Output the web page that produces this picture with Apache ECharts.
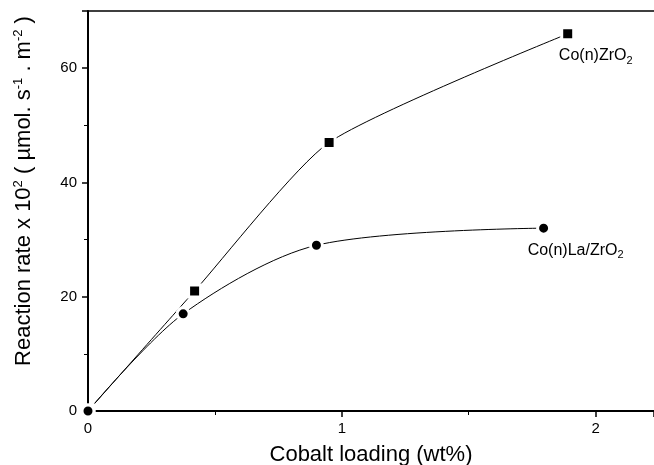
<!DOCTYPE html>
<html>
	<head>
		<meta charset="utf-8">
		<script src="https://cdn.jsdelivr.net/npm/echarts@6/dist/echarts.min.js"></script>
		<title>Reaction rate vs cobalt loading</title>
	</head>
	<body>
		<style>
			html,
			body,
			#main {
				width: 100%;
				height: 100%;
				margin: 0;
				background: #fff;
			}
		</style>
		<div id="main"></div>
		<script type="text/javascript">
			// 数据
			var zrLoading = [0, 0.42, 0.95, 1.89];
			var zrRate = [0, 21, 47, 66];
			var laLoading = [0, 0.375, 0.9, 1.795];
			var laRate = [0, 17, 29, 32];
			var xTicks = [0, 1, 2];
			var yTicks = [0, 20, 40, 60];

			var font = 'Liberation Sans, Arial, sans-serif';

			function pairs(xs, ys) {
				var out = [];
				for (var i = 0; i < xs.length; i++) {
					out.push([xs[i], ys[i]]);
				}
				return out;
			}

			var subRich = {
				a: { fontSize: 16, fontFamily: font, color: '#000' },
				s: { fontSize: 11, fontFamily: font, color: '#000', verticalAlign: 'bottom', padding: [10, 0, 0, 0] }
			};

			var myChart = echarts.init(document.getElementById('main'));
			var option = {
				backgroundColor: '#fff',
				animation: false,
				grid: { left: 88, top: 11, right: 0, bottom: 54, outerBoundsMode: 'none' },
				xAxis: [{
					type: 'value',
					min: 0,
					max: 2.23,
					interval: 1,
					name: 'Cobalt loading (wt%)',
					nameLocation: 'middle',
					nameGap: 33,
					nameTextStyle: { fontSize: 22, fontFamily: font, color: '#000' },
					axisLine: { lineStyle: { color: '#000', width: 2 } },
					axisTick: { inside: false, length: 6, lineStyle: { color: '#000', width: 1.5 } },
					minorTick: { show: true, splitNumber: 2, length: 4, lineStyle: { color: '#000', width: 1 } },
					axisLabel: {
						fontSize: 15, fontFamily: font, color: '#000', margin: 10,
						formatter: function (v) { return xTicks.indexOf(v) >= 0 ? String(v) : ''; }
					},
					splitLine: { show: false }
				}, {
					type: 'value',
					position: 'top',
					min: 0,
					max: 2.23,
					axisLine: { show: true, onZero: false, lineStyle: { color: '#000', width: 1.5 } },
					axisTick: { show: false },
					axisLabel: { show: false },
					splitLine: { show: false }
				}],
				yAxis: {
					type: 'value',
					min: 0,
					max: 70,
					interval: 20,
					name: '{t|Reaction rate x 10}{p|2}{t| ( µmol. s}{p|-1}{t| . m}{p|-2}{t| )}',
					nameLocation: 'middle',
					nameGap: 52,
					nameTextStyle: {
						padding: [0, 0, 0, 40],
						rich: {
							t: { fontSize: 22, fontFamily: font, color: '#000' },
							p: { fontSize: 13, fontFamily: font, color: '#000', verticalAlign: 'top', padding: [0, 0, 11, 0] }
						}
					},
					axisLine: { lineStyle: { color: '#000', width: 2 } },
					axisTick: { inside: false, length: 6, lineStyle: { color: '#000', width: 1.5 } },
					minorTick: { show: true, splitNumber: 2, length: 4, lineStyle: { color: '#000', width: 1 } },
					axisLabel: {
						fontSize: 15, fontFamily: font, color: '#000', margin: 11,
						formatter: function (v) { return yTicks.indexOf(v) >= 0 ? String(v) : ''; }
					},
					splitLine: { show: false }
				},
				series: [{
					name: 'Co(n)ZrO2',
					type: 'line',
					data: pairs(zrLoading, zrRate),
					smooth: 0.2,
					clip: false,
					symbol: 'rect',
					symbolSize: 12,
					lineStyle: { color: '#000', width: 1 },
					itemStyle: { color: '#000', borderColor: '#fff', borderWidth: 3 },
					label: {
						show: true,
						position: 'inside',
						offset: [28, 22],
						rich: subRich,
						formatter: function (p) {
							return p.dataIndex === zrLoading.length - 1 ? '{a|Co(n)ZrO}{s|2}' : '';
						}
					},
					z: 3
				}, {
					name: 'Co(n)La/ZrO2',
					type: 'line',
					data: pairs(laLoading, laRate),
					smooth: 0.3,
					clip: false,
					symbol: 'circle',
					symbolSize: 12,
					lineStyle: { color: '#000', width: 1 },
					itemStyle: { color: '#000', borderColor: '#fff', borderWidth: 3 },
					label: {
						show: true,
						position: 'inside',
						offset: [32, 22],
						rich: subRich,
						formatter: function (p) {
							return p.dataIndex === laLoading.length - 1 ? '{a|Co(n)La/ZrO}{s|2}' : '';
						}
					},
					z: 3
				}]
			};
			myChart.setOption(option);

			window.onresize = function () {
				myChart.resize();
			};
		</script>
	</body>
</html>
